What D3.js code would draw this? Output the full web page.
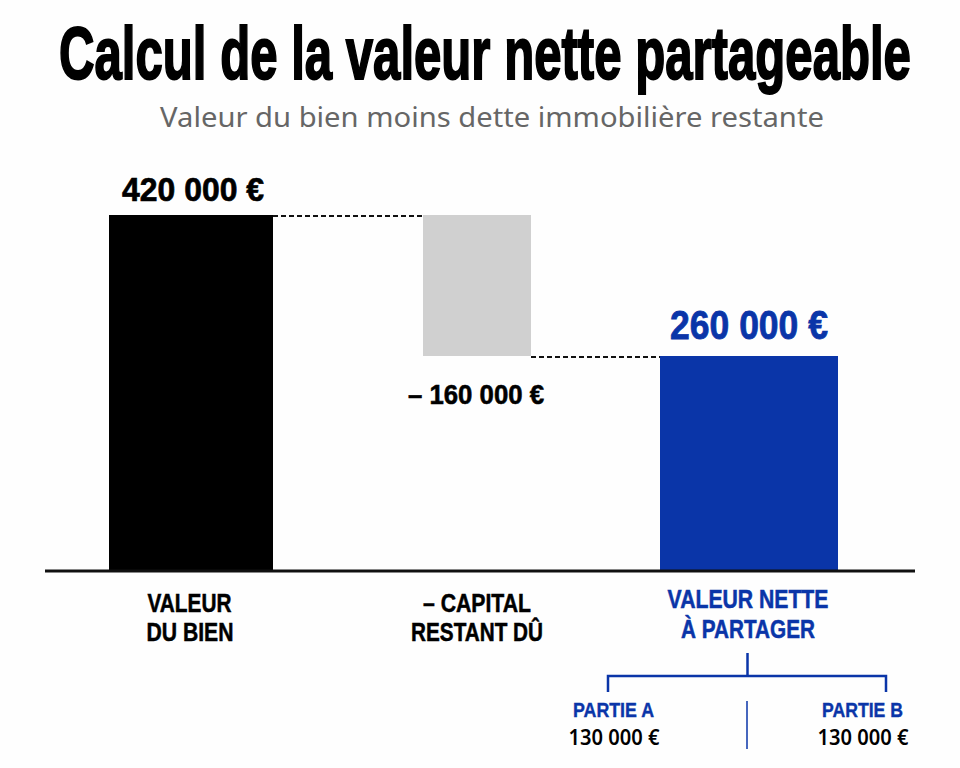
<!DOCTYPE html>
<html>
<head>
<meta charset="utf-8">
<script src="https://cdn.jsdelivr.net/npm/d3@7"></script>
<style>
html,body{margin:0;padding:0;background:#fefefe;}
svg{display:block;}
text{text-anchor:middle;stroke-linejoin:miter;}
</style>
</head>
<body>
<div class="chart"></div>
<script>
//Data
const categories = ['Valeur du bien', 'Capital restant dû', 'Valeur nette'];
const barFrom = [0, 260000, 0];
const barTo = [420000, 420000, 260000];
const valueLabels = ['420 000 €', '– 160 000 €', '260 000 €'];
const catLabels = [['VALEUR', 'DU BIEN'], ['– CAPITAL', 'RESTANT DÛ'], ['VALEUR NETTE', 'À PARTAGER']];
const parts = ['PARTIE A', 'PARTIE B'];
const partValues = ['130 000 €', '130 000 €'];

const W = 960, H = 768;
const BLACK = '#000', GREY = '#d0d0d0', BLUE = '#0a35a8';
const NARROW = '"Liberation Sans Narrow","Liberation Sans",sans-serif';
const SANS = '"Noto Sans",Inter,sans-serif';

const plot = d3.select('.chart')
	.append('svg')
		.attr('width', W)
		.attr('height', H)
		.attr('viewBox', `0 0 ${W} ${H}`);

//The bars in the picture are not quite proportional, so the scale has a knot at 260 000
const scaleY = d3.scaleLinear().domain([0, 260000, 420000]).range([571, 356, 215]);
const scaleX = d3.scaleOrdinal().domain(categories).range([191, 477, 749]);
const scaleW = d3.scaleOrdinal().domain(categories).range([164, 108, 178]);
const scaleColor = d3.scaleOrdinal().domain(categories).range([BLACK, GREY, BLUE]);

//Text is squeezed to the measured width with a transform
function label(x, y, str, size, len, color, family, weight, stroke){
	const t = plot.append('text')
		.style('font-family', family)
		.style('font-weight', weight)
		.style('font-size', size + 'px')
		.style('fill', color)
		.style('stroke', stroke ? color : 'none')
		.style('stroke-width', stroke || 0)
		.text(str);
	const k = len / t.node().getComputedTextLength();
	t.attr('transform', `translate(${x}, ${y}) scale(${k}, 1)`);
}

//Title
label(485, 79, 'Calcul de la valeur nette partageable', 75, 852, BLACK, NARROW, 700, 2);
label(492, 127, 'Valeur du bien moins dette immobilière restante', 28, 664, '#666', SANS, 400);

//Bars
plot.selectAll('.bar')
	.data(categories)
	.enter()
	.append('rect').attr('class', 'bar')
	.attr('x', function(d){return scaleX(d) - scaleW(d)/2})
	.attr('width', function(d){return scaleW(d)})
	.attr('y', function(d,i){return scaleY(barTo[i])})
	.attr('height', function(d,i){return scaleY(barFrom[i]) - scaleY(barTo[i])})
	.style('fill', function(d){return scaleColor(d)});

//Dashed connectors
[[0, 1, 420000], [1, 2, 260000]].forEach(function(c){
	const a = categories[c[0]], b = categories[c[1]];
	plot.append('line')
		.attr('x1', scaleX(a) + scaleW(a)/2)
		.attr('x2', scaleX(b) - scaleW(b)/2)
		.attr('y1', scaleY(c[2]) + 1)
		.attr('y2', scaleY(c[2]) + 1)
		.style('stroke', '#111')
		.style('stroke-width', 2)
		.style('stroke-dasharray', '5 3');
});

//Baseline
plot.append('line')
	.attr('x1', 45).attr('x2', 915)
	.attr('y1', scaleY(0)).attr('y2', scaleY(0))
	.style('stroke', '#111')
	.style('stroke-width', 3);

//Value labels
label(193, 201, valueLabels[0], 34, 142, BLACK, NARROW, 700, 0.7);
label(476, 404, valueLabels[1], 28, 136, BLACK, NARROW, 700, 0.6);
label(749, 339, valueLabels[2], 40, 158, BLUE, NARROW, 700, 0.8);

//Category labels
label(189.5, 612, catLabels[0][0], 25, 84, BLACK, NARROW, 700, 0.5);
label(190, 641, catLabels[0][1], 25, 87, BLACK, NARROW, 700, 0.5);
label(477, 612, catLabels[1][0], 25, 108, BLACK, NARROW, 700, 0.5);
label(477, 641, catLabels[1][1], 25, 132, BLACK, NARROW, 700, 0.5);
label(748, 608, catLabels[2][0], 25, 161, BLUE, NARROW, 700, 0.5);
label(748, 638, catLabels[2][1], 25, 134, BLUE, NARROW, 700, 0.5);

//Bracket
plot.append('path')
	.attr('d', d3.line()([[608, 692], [608, 676], [886, 676], [886, 692]]))
	.style('fill', 'none')
	.style('stroke', BLUE)
	.style('stroke-width', 2.5);
plot.append('line')
	.attr('x1', 747.5).attr('x2', 747.5).attr('y1', 653).attr('y2', 676)
	.style('stroke', BLUE).style('stroke-width', 2.5);
plot.append('line')
	.attr('x1', 747).attr('x2', 747).attr('y1', 701).attr('y2', 749)
	.style('stroke', BLUE).style('stroke-width', 1.5);

//Parts
label(613.5, 717, parts[0], 21, 81, BLUE, NARROW, 700, 0.4);
label(862.5, 717, parts[1], 21, 81, BLUE, NARROW, 700, 0.4);
label(614, 745, partValues[0], 21, 91, BLACK, SANS, 600);
label(863, 745, partValues[1], 21, 91, BLACK, SANS, 600);
</script>
</body>
</html>
